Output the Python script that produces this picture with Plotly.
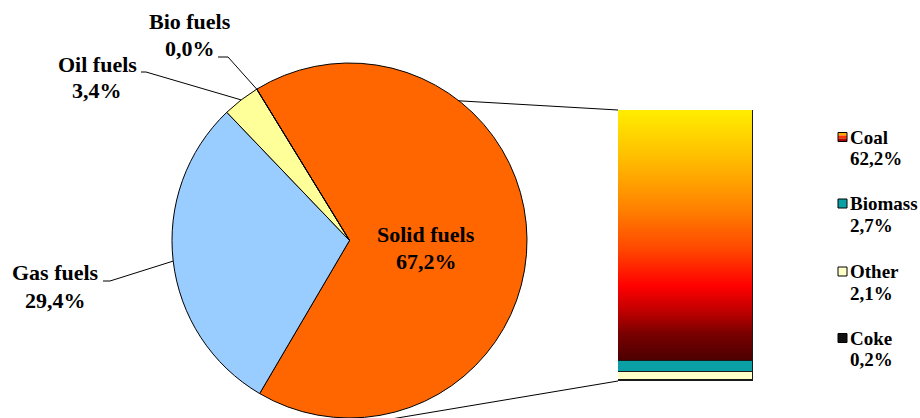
import math
import numpy as np
import plotly.graph_objects as go

W, H = 920, 418

# ---------------- data ----------------
pie_labels = ["Solid fuels", "Gas fuels", "Oil fuels", "Bio fuels"]
pie_values = [67.2, 29.4, 3.4, 0.0]
pie_colors = ["#FF6600", "#99CCFF", "#FFFF99", "#CCFFCC"]

bar_labels = ["Coal", "Biomass", "Other", "Coke"]
bar_values = [62.2, 2.7, 2.1, 0.2]
bar_colors = ["rgba(0,0,0,0)", "#0AA0A6", "#FFFFC8", "#111111"]
bar_line_widths = [1, 1, 1, 2]

coal_scale = [
    [0.00, "#4A0000"], [0.11, "#7A0000"], [0.20, "#C00000"], [0.30, "#FF0000"],
    [0.44, "#FF4400"], [0.60, "#FF8000"], [0.80, "#FFBB00"], [1.00, "#FFEE00"],
]

FONT = "Liberation Serif, Times New Roman, serif"


def fmt(v):
    return f"{v:.1f}".replace(".", ",") + "%"


def px(x):
    return x / W


def py(y):
    return 1 - y / H


# ---------------- pie geometry (layout) ----------------
pie_left, pie_right, pie_top = 172, 527, 63
pie_dom_x = [px(pie_left), px(pie_right)]
pie_dom_y = [0.0, py(pie_top)]
r = min(pie_right - pie_left, H - pie_top) / 2
cx = (pie_left + pie_right) / 2
cy = pie_top + (H - pie_top) / 2
rotation = -31.5
total = sum(pie_values)


def edge(angle_deg, rr=r):
    a = math.radians(angle_deg)
    return cx + rr * math.sin(a), cy - rr * math.cos(a)


def mid_angle(i):
    before = sum(pie_values[:i])
    return rotation + (before + pie_values[i] / 2) / total * 360


fig = go.Figure()

fig.add_trace(go.Pie(
    labels=pie_labels, values=pie_values, sort=False, direction="clockwise",
    rotation=rotation, textinfo="none", showlegend=False,
    marker=dict(colors=pie_colors, line=dict(color="black", width=1)),
    domain=dict(x=pie_dom_x, y=pie_dom_y), hoverinfo="label+percent",
))

# ---------------- bar of pie ----------------
bar_x0, bar_x1, bar_top, bar_bot = 618, 753, 110, 381
bar_total = sum(bar_values)
coal_base = sum(bar_values[1:])
N = 250
y_edges = np.linspace(coal_base, bar_total, N + 1)
tvals = (y_edges[:-1] + y_edges[1:]) / 2
zz = [[(t - coal_base) / (bar_total - coal_base)] for t in tvals]
fig.add_trace(go.Heatmap(
    x=[-0.5, 0.5], y=y_edges, z=zz, colorscale=coal_scale, zmin=0, zmax=1,
    showscale=False, hoverinfo="skip", xaxis="x", yaxis="y",
))

for lab, val, col, lw in reversed(list(zip(bar_labels, bar_values, bar_colors, bar_line_widths))):
    fig.add_trace(go.Bar(
        x=[0], y=[val], width=1, name=lab, showlegend=False,
        marker=dict(color=col, line=dict(color="#1a1a1a", width=lw)),
        xaxis="x", yaxis="y",
    ))

fig.update_layout(
    width=W, height=H, margin=dict(l=0, r=0, t=0, b=0),
    paper_bgcolor="white", plot_bgcolor="rgba(0,0,0,0)",
    barmode="stack", bargap=0,
    xaxis=dict(domain=[px(bar_x0), px(bar_x1)], range=[-0.5, 0.5], visible=False, fixedrange=True),
    yaxis=dict(domain=[py(bar_bot), py(bar_top)], range=[0, bar_total], visible=False, fixedrange=True),
    font=dict(family=FONT, color="black"),
)

shapes = []


def line(x0, y0, x1, y1, layer="above"):
    shapes.append(dict(type="line", xref="paper", yref="paper", layer=layer,
                       x0=px(x0), y0=py(y0), x1=px(x1), y1=py(y1),
                       line=dict(color="black", width=1)))


# connector lines between pie and bar (drawn beneath the pie)
sx, sy = edge(rotation)
line(sx, sy, bar_x0, bar_top, layer="below")
line(bar_x0, bar_bot, cx, cy + r + 8, layer="below")

# leader lines for outside labels: (label index, start x, bend x, y)
leaders = [(3, 218, 228, 57), (2, 141, 146, 72), (1, 103, 110, 281)]
for i, xs, xb, yl in leaders:
    ex, ey = edge(mid_angle(i))
    line(xs, yl, xb, yl)
    line(xb, yl, ex, ey)

annotations = []


def text(t, x, y, size, anchor="center"):
    annotations.append(dict(text=f"<b>{t}</b>", x=px(x), y=py(y), xref="paper", yref="paper",
                            xanchor=anchor, yanchor="middle", showarrow=False,
                            font=dict(family=FONT, size=size, color="black")))


# pie labels: (index, x, y first line, y second line)
label_pos = [(0, 426, 234, 261), (1, 55.5, 272, 300), (2, 97, 64.5, 91), (3, 190, 21.7, 48.3)]
for i, x, y1, y2 in label_pos:
    text(pie_labels[i], x, y1, 22)
    text(fmt(pie_values[i]), x, y2, 22)

# legend (manual)
leg_y = [137, 203.5, 271.5, 338]
leg_mx, leg_tx, ms = 842.5, 848, 9
for lab, val, col, yy in zip(bar_labels, bar_values, bar_colors, leg_y):
    x0, x1, y0, y1 = leg_mx - ms / 2, leg_mx + ms / 2, yy - ms / 2, yy + ms / 2
    if lab == "Coal":
        cols = ["#FFAA00", "#FF3300", "#B00000"]
        for k, c in enumerate(cols):
            shapes.append(dict(type="rect", xref="paper", yref="paper",
                               x0=px(x0), x1=px(x1), y0=py(y0 + k * ms / 3), y1=py(y0 + (k + 1) * ms / 3),
                               fillcolor=c, line=dict(width=0)))
        shapes.append(dict(type="rect", xref="paper", yref="paper",
                           x0=px(x0), x1=px(x1), y0=py(y0), y1=py(y1),
                           fillcolor="rgba(0,0,0,0)", line=dict(color="black", width=1)))
    else:
        shapes.append(dict(type="rect", xref="paper", yref="paper",
                           x0=px(x0), x1=px(x1), y0=py(y0), y1=py(y1),
                           fillcolor=col, line=dict(color="black", width=1)))
    text(lab, leg_tx, yy, 19, anchor="left")
    text(fmt(val), leg_tx, yy + 21.5, 19, anchor="left")

fig.update_layout(shapes=shapes, annotations=annotations)
fig.write_html("out.html")
